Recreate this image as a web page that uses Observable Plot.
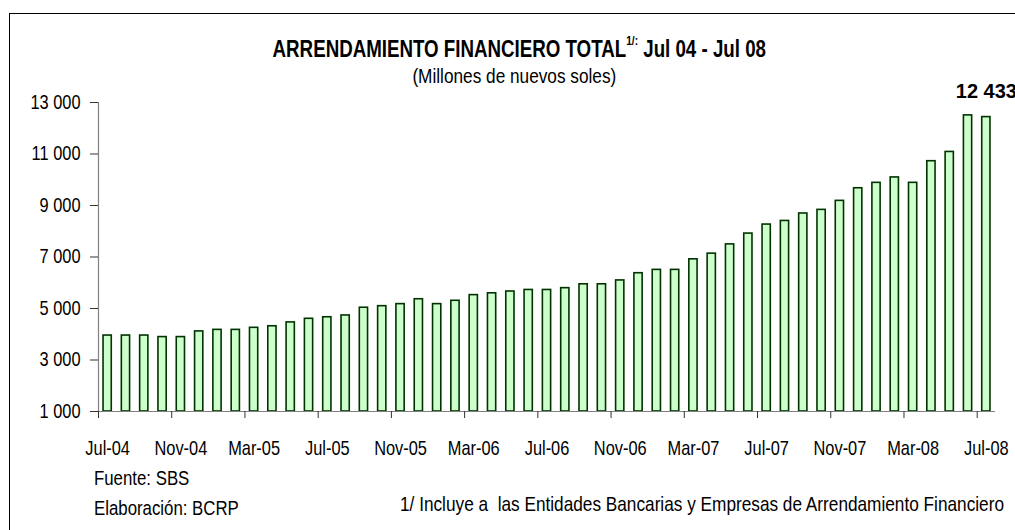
<!DOCTYPE html>
<html>
<head>
<meta charset="utf-8">
<script src="https://cdn.jsdelivr.net/npm/d3@7"></script>
<script src="https://cdn.jsdelivr.net/npm/@observablehq/plot@0.6"></script>
<style>
  html, body { margin: 0; padding: 0; background: #fff; }
  body { width: 1015px; height: 530px; overflow: hidden; position: relative;
         font-family: 'Liberation Sans', Arial, sans-serif; color: #000; }
  #frame { position: absolute; left: 9px; top: 13px; width: 1100px; height: 600px; border: 1.5px solid #000; }
  #wrap { position: absolute; left: 0; top: 0; width: 1015px; }
  #head { position: relative; height: 80px; }
  #foot { position: relative; height: 70px; }
  .t { position: absolute; line-height: 1; white-space: nowrap; }
  .n { display: inline-block; transform: scaleX(0.82); transform-origin: left center; }
  .c .n { transform-origin: center center; }
  #title { left: 0; width: 1038px; text-align: center; top: 37px; font-size: 24px; font-weight: bold; }
  #title .n { transform: scaleX(0.78); }
  #title sup { font-size: 13px; position: relative; top: -3px; vertical-align: top; }
  #sub { left: 0; width: 1028px; text-align: center; top: 65px; font-size: 21px; }
  #chart svg { display: block; overflow: visible; }
</style>
</head>
<body>
<div id="frame"></div>
<div id="wrap">
  <div id="head">
    <div class="t c" id="title"><span class="n">ARRENDAMIENTO FINANCIERO TOTAL<sup>1/:</sup> Jul 04 - Jul 08</span></div>
    <div class="t c" id="sub"><span class="n">(Millones de nuevos soles)</span></div>
  </div>
  <div id="chart"></div>
  <div id="foot">
    <div class="t" style="left:94px; top:8px; font-size:20.5px;"><span class="n">Fuente: SBS</span></div>
    <div class="t" style="left:94px; top:38px; font-size:20.5px;"><span class="n">Elaboración: BCRP</span></div>
    <div class="t" style="left:400px; top:33px; font-size:21px;"><span class="n">1/ Incluye a &nbsp;las Entidades Bancarias y Empresas de Arrendamiento Financiero</span></div>
  </div>
</div>
<script>
const months = [
  "Jul-04","Ago-04","Set-04","Oct-04","Nov-04","Dic-04",
  "Ene-05","Feb-05","Mar-05","Abr-05","May-05","Jun-05",
  "Jul-05","Ago-05","Set-05","Oct-05","Nov-05","Dic-05",
  "Ene-06","Feb-06","Mar-06","Abr-06","May-06","Jun-06",
  "Jul-06","Ago-06","Set-06","Oct-06","Nov-06","Dic-06",
  "Ene-07","Feb-07","Mar-07","Abr-07","May-07","Jun-07",
  "Jul-07","Ago-07","Set-07","Oct-07","Nov-07","Dic-07",
  "Ene-08","Feb-08","Mar-08","Abr-08","May-08","Jun-08",
  "Jul-08"
];
const values = [
  3950, 3950, 3950, 3890, 3890, 4110,
  4170, 4170, 4250, 4310, 4460, 4600,
  4660, 4730, 5030, 5090, 5170, 5360,
  5170, 5300, 5520, 5590, 5660, 5720,
  5720, 5790, 5940, 5940, 6090, 6370,
  6500, 6500, 6910, 7130, 7490, 7910,
  8260, 8400, 8690, 8830, 9180, 9670,
  9880, 10090, 9880, 10720, 11080, 12500,
  12433
];
const labelMonths = ["Jul-04","Nov-04","Mar-05","Jul-05","Nov-05","Mar-06","Jul-06","Nov-06","Mar-07","Jul-07","Nov-07","Mar-08","Jul-08"];
const yTicks = [1000, 3000, 5000, 7000, 9000, 11000, 13000];
const highlight = ["Jul-08"];

const data = months.map((m, i) => ({month: m, value: values[i]}));
const fmt = d3.formatLocale({thousands: " ", grouping: [3], decimal: ","}).format(",");

const W = 1015, ML = 98, MR = 20;
const step = (W - ML - MR) / months.length;
const FONT = "'Liberation Sans', Arial, sans-serif";

const chart = Plot.plot({
  width: W,
  height: 380,
  marginLeft: ML,
  marginRight: MR,
  marginTop: 22,
  marginBottom: 49,
  style: {fontFamily: FONT, fontSize: "20px", background: "transparent", overflow: "visible", color: "#000"},
  x: {domain: months, paddingInner: 0.55, paddingOuter: 0.275, round: false, axis: null},
  y: {domain: [1000, 13000], axis: null},
  marks: [
    Plot.barY(data, {x: "month", y1: 1000, y2: "value", fill: "#ccffcc", stroke: "#003300", strokeWidth: 1.6}),
    Plot.ruleY([1000], {stroke: "#808080", strokeWidth: 1.2}),
    Plot.ruleX([months[0]], {y1: 1000, y2: 13000, dx: -step / 2, stroke: "#808080", strokeWidth: 1.2}),
    Plot.axisY({ticks: yTicks, tickSize: 8, tickPadding: 10, tickFormat: fmt, stroke: "#333", fontSize: 20, label: null}),
    Plot.axisX({ticks: labelMonths, tickSize: 7, tickFormat: () => "", dx: -step / 2, stroke: "#333", label: null}),
    Plot.axisX({ticks: labelMonths, tickSize: 0, tickPadding: 29, fontSize: 20, label: null}),
    Plot.text(data.filter(d => highlight.includes(d.month)), {
      x: "month", y: "value", text: d => fmt(d.value), dy: -19, lineAnchor: "bottom",
      fontWeight: "bold", fontSize: 20, fontFamily: FONT, className: "valuelabel"
    })
  ]
});
// Condense tick-label glyphs horizontally (Arial Narrow look) around each text's own anchor.
chart.querySelectorAll("text").forEach(t => {
  if (t.closest(".valuelabel")) return;
  const tr = t.getAttribute("transform") || "";
  const x = t.getAttribute("x");
  let pre = "";
  if (x && !isNaN(+x)) { pre = ` translate(${+x},0)`; t.removeAttribute("x"); }
  t.setAttribute("transform", `${tr}${pre} scale(0.82,1)`);
});
document.getElementById("chart").appendChild(chart);
</script>
</body>
</html>
